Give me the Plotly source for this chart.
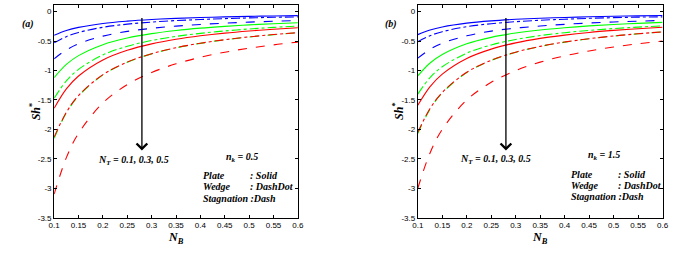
import plotly.graph_objects as go

NB = [0.1, 0.125, 0.15, 0.2, 0.25, 0.3, 0.35, 0.4, 0.45, 0.5, 0.55, 0.6]

# panel (a) nk = 0.5
a_blue_plate = [-0.40, -0.32, -0.267, -0.20, -0.16, -0.133, -0.114, -0.10, -0.089, -0.08, -0.073, -0.067]
a_blue_wedge = [-0.53, -0.424, -0.353, -0.265, -0.212, -0.177, -0.151, -0.133, -0.118, -0.106, -0.096, -0.088]
a_blue_stag = [-0.80, -0.65, -0.545, -0.415, -0.335, -0.283, -0.245, -0.217, -0.195, -0.177, -0.163, -0.15]
a_green_plate = [-1.12, -0.896, -0.747, -0.56, -0.448, -0.373, -0.32, -0.28, -0.249, -0.224, -0.204, -0.187]
a_green_wedge = [-1.47, -1.176, -0.98, -0.735, -0.588, -0.49, -0.42, -0.368, -0.327, -0.294, -0.267, -0.245]
a_green_stag = [-2.15, -1.72, -1.433, -1.075, -0.86, -0.717, -0.614, -0.538, -0.478, -0.43, -0.391, -0.358]
a_red_plate = [-1.64, -1.312, -1.093, -0.82, -0.656, -0.547, -0.469, -0.41, -0.364, -0.328, -0.298, -0.273]
a_red_wedge = [-2.13, -1.71, -1.425, -1.07, -0.857, -0.714, -0.612, -0.536, -0.476, -0.428, -0.389, -0.356]
a_red_stag = [-3.1, -2.48, -2.067, -1.55, -1.24, -1.033, -0.886, -0.775, -0.689, -0.62, -0.564, -0.517]

# panel (b) nk = 1.5
b_blue_plate = [-0.39, -0.312, -0.26, -0.195, -0.156, -0.13, -0.111, -0.098, -0.087, -0.078, -0.071, -0.065]
b_blue_wedge = [-0.51, -0.408, -0.34, -0.255, -0.204, -0.17, -0.146, -0.128, -0.113, -0.102, -0.093, -0.088]
b_blue_stag = [-0.79, -0.64, -0.535, -0.41, -0.33, -0.28, -0.243, -0.215, -0.193, -0.175, -0.161, -0.149]
b_green_plate = [-1.09, -0.872, -0.727, -0.545, -0.436, -0.363, -0.311, -0.273, -0.242, -0.218, -0.198, -0.182]
b_green_wedge = [-1.40, -1.12, -0.935, -0.705, -0.565, -0.472, -0.406, -0.357, -0.318, -0.287, -0.262, -0.241]
b_green_stag = [-2.07, -1.656, -1.38, -1.035, -0.828, -0.69, -0.591, -0.518, -0.46, -0.414, -0.376, -0.345]
b_red_plate = [-1.59, -1.272, -1.06, -0.795, -0.636, -0.53, -0.454, -0.398, -0.353, -0.318, -0.289, -0.265]
b_red_wedge = [-2.05, -1.645, -1.372, -1.03, -0.825, -0.688, -0.589, -0.516, -0.459, -0.413, -0.375, -0.344]
b_red_stag = [-3.0, -2.4, -2.0, -1.5, -1.2, -1.0, -0.857, -0.75, -0.667, -0.6, -0.545, -0.5]

x_ticks = [0.1, 0.15, 0.2, 0.25, 0.3, 0.35, 0.4, 0.45, 0.5, 0.55, 0.6]
y_ticks = [0, -0.5, -1, -1.5, -2, -2.5, -3, -3.5]

BLUE, GREEN, RED = "#0000ff", "#00ff00", "#ff0000"
series_a = [
    (a_blue_plate, BLUE, "solid"), (a_blue_wedge, BLUE, "dashdot"), (a_blue_stag, BLUE, "dash"),
    (a_green_plate, GREEN, "solid"), (a_green_wedge, GREEN, "dashdot"), (a_green_stag, GREEN, "dash"),
    (a_red_plate, RED, "solid"), (a_red_wedge, RED, "dashdot"), (a_red_stag, RED, "dash"),
]
series_b = [
    (b_blue_plate, BLUE, "solid"), (b_blue_wedge, BLUE, "dashdot"), (b_blue_stag, BLUE, "dash"),
    (b_green_plate, GREEN, "solid"), (b_green_wedge, GREEN, "dashdot"), (b_green_stag, GREEN, "dash"),
    (b_red_plate, RED, "solid"), (b_red_wedge, RED, "dashdot"), (b_red_stag, RED, "dash"),
]

W, H = 700, 259
fig = go.Figure()
for ser, xa, ya in [(series_a, "x", "y"), (series_b, "x2", "y2")]:
    for vals, col, dash in ser:
        fig.add_trace(go.Scatter(x=NB, y=vals, mode="lines", xaxis=xa, yaxis=ya,
                                 line=dict(color=col, dash=dash, width=1.1, shape="spline"),
                                 showlegend=False, hoverinfo="skip"))

ydom = [1 - 222 / H, 1 - 5 / H]
tickfont = dict(family="Liberation Sans", size=8, color="black")
common_x = dict(range=[0.1, 0.6], tickvals=x_ticks, ticktext=[f"{v:g}" for v in x_ticks],
                showline=True, linecolor="black", linewidth=1, mirror="ticks",
                ticks="inside", ticklen=3, tickcolor="black", showgrid=False, zeroline=False,
                tickfont=tickfont)
common_y = dict(range=[-3.5, 0.115], tickvals=y_ticks, ticktext=[f"{v:g}" for v in y_ticks],
                showline=True, linecolor="black", linewidth=1, mirror="ticks",
                ticks="inside", ticklen=3, tickcolor="black", showgrid=False, zeroline=False,
                tickfont=tickfont)

fig.update_layout(
    width=W, height=H, margin=dict(l=0, r=0, t=0, b=0),
    paper_bgcolor="white", plot_bgcolor="white",
    xaxis=dict(domain=[49 / W, 297 / W], anchor="y", **common_x),
    yaxis=dict(domain=ydom, anchor="x", **common_y),
    xaxis2=dict(domain=[419 / W, 668 / W], anchor="y2", **common_x),
    yaxis2=dict(domain=ydom, anchor="x2", **common_y),
)

TF = "Liberation Serif"
def txt(size):
    return dict(family=TF, size=size, color="black")

anns = []
panels = [
    dict(xr="x", yr="y", lab="(a)", labx=22, ylab=30, xlab=173, nk="0.5",
         ntx=0.263, nty=-2.53, nkx=0.485, nky=-2.47, px=0.402, cx=0.497, rows=[-2.78, -2.97, -3.17]),
    dict(xr="x2", yr="y2", lab="(b)", labx=392, ylab=400, xlab=543, nk="1.5",
         ntx=0.259, nty=-2.51, nkx=0.48, nky=-2.45, px=0.409, cx=0.504, rows=[-2.76, -2.95, -3.14]),
]
for p in panels:
    xr, yr = p["xr"], p["yr"]
    # arrow
    anns.append(dict(x=0.28, y=-2.36, ax=0.28, ay=-0.08, xref=xr, yref=yr, axref=xr, ayref=yr,
                     showarrow=True, arrowhead=4, arrowsize=1.6, arrowwidth=1.3, arrowcolor="black", text=""))
    anns.append(dict(x=p["ntx"], y=p["nty"], xref=xr, yref=yr, showarrow=False,
                     xanchor="center", yanchor="middle",
                     text="<b><i>N<sub>T</sub> = 0.1, 0.3, 0.5</i></b>", font=txt(10)))
    anns.append(dict(x=p["nkx"], y=p["nky"], xref=xr, yref=yr, showarrow=False,
                     xanchor="center", yanchor="middle",
                     text="<b><i>n<sub>k</sub> = " + p["nk"] + "</i></b>", font=txt(10)))
    for lbl, val, yy in [("Plate", ": Solid", p["rows"][0]), ("Wedge", ": DashDot", p["rows"][1])]:
        anns.append(dict(x=p["px"], y=yy, xref=xr, yref=yr, showarrow=False, xanchor="left", yanchor="middle",
                         text="<b><i>" + lbl + "</i></b>", font=txt(10)))
        anns.append(dict(x=p["cx"], y=yy, xref=xr, yref=yr, showarrow=False, xanchor="left", yanchor="middle",
                         text="<b><i>" + val + "</i></b>", font=txt(10)))
    anns.append(dict(x=p["px"], y=p["rows"][2], xref=xr, yref=yr, showarrow=False, xanchor="left", yanchor="middle",
                     text="<b><i>Stagnation :Dash</i></b>", font=txt(10)))
    # panel label
    anns.append(dict(x=p["labx"] / W, y=1 - 24 / H, xref="paper", yref="paper", showarrow=False,
                     xanchor="center", yanchor="middle",
                     text="<b><i>" + p["lab"] + "</i></b>", font=txt(10)))
    # y title
    anns.append(dict(x=p["ylab"] / W, y=1 - 113 / H, xref="paper", yref="paper", showarrow=False,
                     xanchor="center", yanchor="middle",
                     textangle=-90, text="<b><i>Sh</i></b><sup><b>*</b></sup>", font=txt(12)))
    # x title
    anns.append(dict(x=p["xlab"] / W, y=1 - 243 / H, xref="paper", yref="paper", showarrow=False,
                     xanchor="center", yanchor="middle",
                     text="<b><i>N<sub>B</sub></i></b>", font=txt(12)))
fig.update_layout(annotations=anns)
fig.write_html("out.html", config={"displayModeBar": False},
               post_script="document.body.style.margin='0px';document.body.style.overflow='hidden';")
